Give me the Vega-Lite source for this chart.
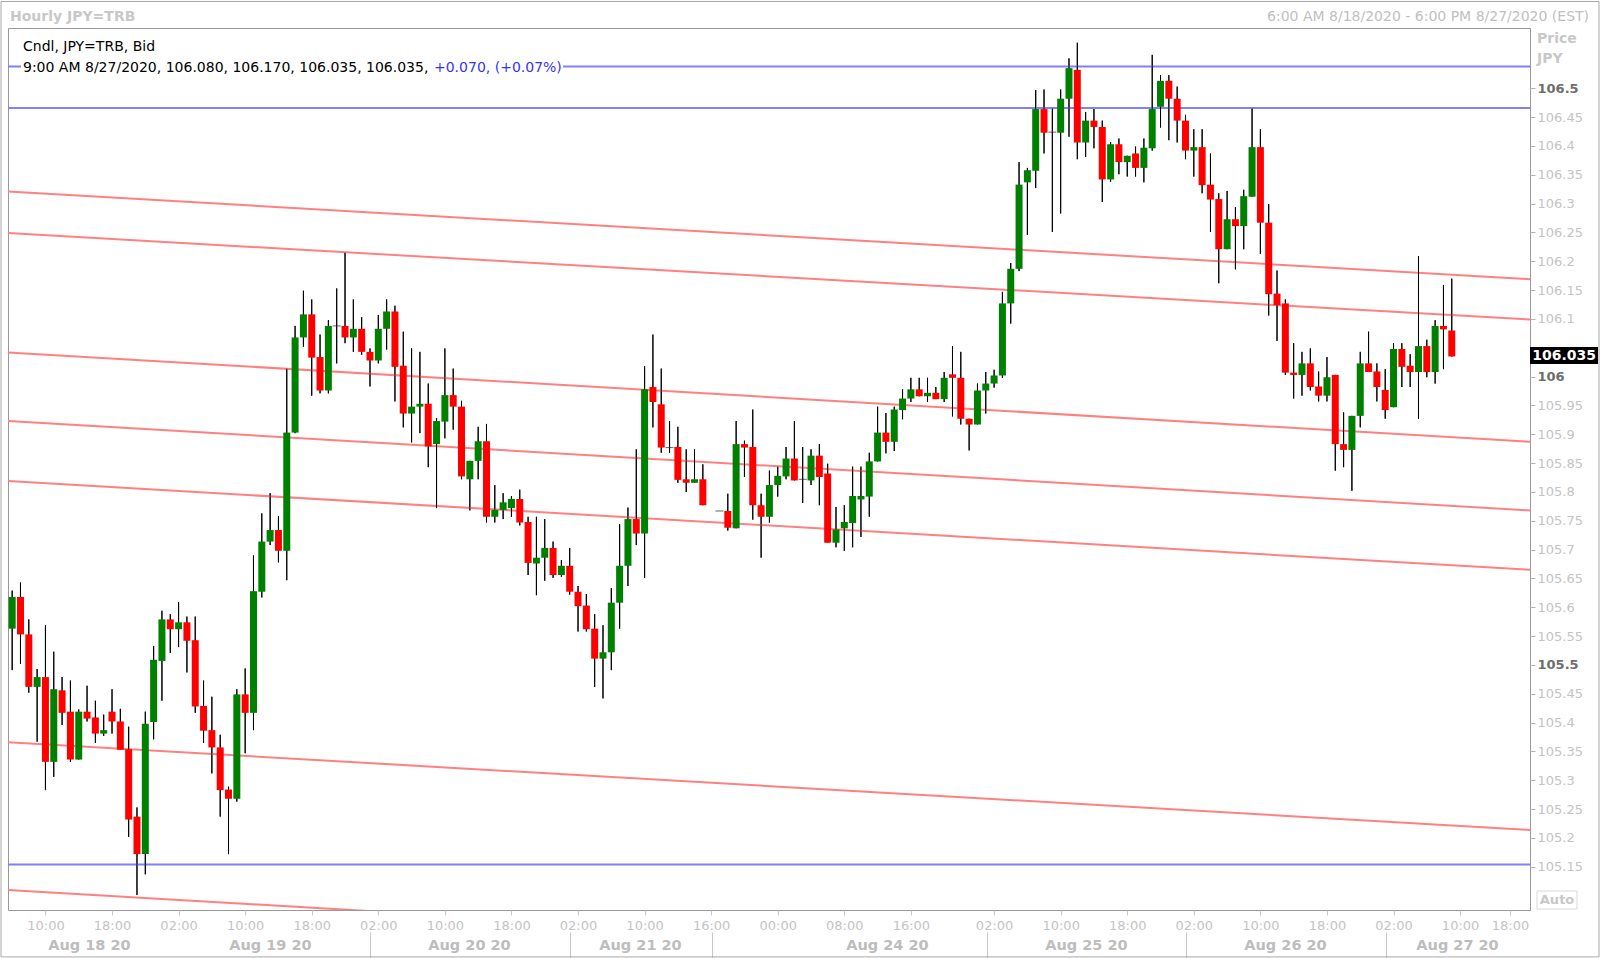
{
"$schema": "https://vega.github.io/schema/vega-lite/v6.json",
"width": 1522, "height": 882,
"autosize": {"type": "none"},
"padding": {"left": 8, "top": 28, "right": 70, "bottom": 48},
"background": "white",
"config": {"view": {"stroke": "#999999", "strokeWidth": 1}, "font": "DejaVu Sans", "scale": {"continuousPadding": 0}, "axis": {"labelOverlap": false}},
"datasets": {
"candles": [
{"i":0,"o":105.563,"h":105.629,"l":105.491,"c":105.618},
{"i":1,"o":105.618,"h":105.643,"l":105.502,"c":105.553},
{"i":2,"o":105.553,"h":105.579,"l":105.452,"c":105.462},
{"i":3,"o":105.462,"h":105.493,"l":105.367,"c":105.479},
{"i":4,"o":105.479,"h":105.569,"l":105.283,"c":105.332},
{"i":5,"o":105.332,"h":105.523,"l":105.306,"c":105.458},
{"i":6,"o":105.456,"h":105.479,"l":105.396,"c":105.417},
{"i":7,"o":105.419,"h":105.473,"l":105.332,"c":105.336},
{"i":8,"o":105.336,"h":105.423,"l":105.336,"c":105.419},
{"i":9,"o":105.419,"h":105.464,"l":105.402,"c":105.407},
{"i":10,"o":105.409,"h":105.438,"l":105.365,"c":105.381},
{"i":11,"o":105.381,"h":105.414,"l":105.377,"c":105.387},
{"i":12,"o":105.419,"h":105.458,"l":105.381,"c":105.402},
{"i":13,"o":105.402,"h":105.424,"l":105.353,"c":105.353},
{"i":14,"o":105.354,"h":105.393,"l":105.202,"c":105.232},
{"i":15,"o":105.237,"h":105.253,"l":105.101,"c":105.172},
{"i":16,"o":105.172,"h":105.419,"l":105.137,"c":105.398},
{"i":17,"o":105.401,"h":105.533,"l":105.371,"c":105.509},
{"i":18,"o":105.507,"h":105.594,"l":105.438,"c":105.579},
{"i":19,"o":105.579,"h":105.588,"l":105.521,"c":105.562},
{"i":20,"o":105.562,"h":105.609,"l":105.531,"c":105.574},
{"i":21,"o":105.574,"h":105.584,"l":105.487,"c":105.542},
{"i":22,"o":105.543,"h":105.584,"l":105.417,"c":105.428},
{"i":23,"o":105.429,"h":105.473,"l":105.365,"c":105.386},
{"i":24,"o":105.387,"h":105.445,"l":105.312,"c":105.357},
{"i":25,"o":105.357,"h":105.379,"l":105.237,"c":105.283},
{"i":26,"o":105.284,"h":105.289,"l":105.172,"c":105.268},
{"i":27,"o":105.268,"h":105.458,"l":105.263,"c":105.449},
{"i":28,"o":105.449,"h":105.494,"l":105.347,"c":105.417},
{"i":29,"o":105.417,"h":105.69,"l":105.387,"c":105.628},
{"i":30,"o":105.627,"h":105.763,"l":105.617,"c":105.714},
{"i":31,"o":105.714,"h":105.798,"l":105.708,"c":105.734},
{"i":32,"o":105.734,"h":105.758,"l":105.678,"c":105.698},
{"i":33,"o":105.698,"h":106.014,"l":105.647,"c":105.903},
{"i":34,"o":105.903,"h":106.088,"l":105.902,"c":106.068},
{"i":35,"o":106.068,"h":106.149,"l":106.052,"c":106.108},
{"i":36,"o":106.108,"h":106.134,"l":105.967,"c":106.033},
{"i":37,"o":106.034,"h":106.073,"l":105.971,"c":105.976},
{"i":38,"o":105.976,"h":106.098,"l":105.971,"c":106.088},
{"i":39,"o":106.088,"h":106.153,"l":106.023,"c":106.088},
{"i":40,"o":106.088,"h":106.215,"l":106.058,"c":106.068},
{"i":41,"o":106.068,"h":106.134,"l":106.043,"c":106.083},
{"i":42,"o":106.083,"h":106.103,"l":106.038,"c":106.043},
{"i":43,"o":106.043,"h":106.049,"l":105.983,"c":106.028},
{"i":44,"o":106.028,"h":106.107,"l":106.023,"c":106.083},
{"i":45,"o":106.083,"h":106.134,"l":106.047,"c":106.113},
{"i":46,"o":106.113,"h":106.123,"l":105.957,"c":106.017},
{"i":47,"o":106.019,"h":106.078,"l":105.912,"c":105.936},
{"i":48,"o":105.936,"h":106.049,"l":105.886,"c":105.948},
{"i":49,"o":105.948,"h":106.043,"l":105.902,"c":105.953},
{"i":50,"o":105.953,"h":105.988,"l":105.843,"c":105.879},
{"i":51,"o":105.883,"h":105.928,"l":105.772,"c":105.923},
{"i":52,"o":105.922,"h":106.049,"l":105.893,"c":105.968},
{"i":53,"o":105.968,"h":106.014,"l":105.908,"c":105.948},
{"i":54,"o":105.948,"h":105.958,"l":105.822,"c":105.827},
{"i":55,"o":105.822,"h":105.854,"l":105.768,"c":105.854},
{"i":56,"o":105.854,"h":105.913,"l":105.822,"c":105.888},
{"i":57,"o":105.888,"h":105.918,"l":105.747,"c":105.757},
{"i":58,"o":105.757,"h":105.812,"l":105.747,"c":105.769},
{"i":59,"o":105.769,"h":105.798,"l":105.753,"c":105.782},
{"i":60,"o":105.772,"h":105.793,"l":105.757,"c":105.788},
{"i":61,"o":105.788,"h":105.804,"l":105.742,"c":105.747},
{"i":62,"o":105.748,"h":105.757,"l":105.656,"c":105.677},
{"i":63,"o":105.676,"h":105.757,"l":105.621,"c":105.686},
{"i":64,"o":105.686,"h":105.753,"l":105.646,"c":105.703},
{"i":65,"o":105.703,"h":105.714,"l":105.651,"c":105.656},
{"i":66,"o":105.656,"h":105.682,"l":105.653,"c":105.672},
{"i":67,"o":105.672,"h":105.703,"l":105.622,"c":105.627},
{"i":68,"o":105.627,"h":105.637,"l":105.558,"c":105.602},
{"i":69,"o":105.603,"h":105.623,"l":105.558,"c":105.562},
{"i":70,"o":105.563,"h":105.588,"l":105.462,"c":105.511},
{"i":71,"o":105.511,"h":105.569,"l":105.442,"c":105.522},
{"i":72,"o":105.522,"h":105.633,"l":105.491,"c":105.608},
{"i":73,"o":105.608,"h":105.744,"l":105.563,"c":105.672},
{"i":74,"o":105.672,"h":105.773,"l":105.637,"c":105.753},
{"i":75,"o":105.753,"h":105.874,"l":105.708,"c":105.728},
{"i":76,"o":105.728,"h":106.018,"l":105.651,"c":105.978},
{"i":77,"o":105.982,"h":106.073,"l":105.912,"c":105.956},
{"i":78,"o":105.952,"h":106.014,"l":105.868,"c":105.877},
{"i":79,"o":105.877,"h":105.923,"l":105.868,"c":105.877},
{"i":80,"o":105.878,"h":105.913,"l":105.816,"c":105.821},
{"i":81,"o":105.822,"h":105.874,"l":105.800,"c":105.816},
{"i":82,"o":105.816,"h":105.874,"l":105.816,"c":105.822},
{"i":83,"o":105.822,"h":105.848,"l":105.777,"c":105.777},
{"i":85,"o":105.767,"h":105.767,"l":105.767,"c":105.767},
{"i":86,"o":105.767,"h":105.797,"l":105.733,"c":105.738},
{"i":87,"o":105.737,"h":105.923,"l":105.737,"c":105.883},
{"i":88,"o":105.883,"h":105.889,"l":105.826,"c":105.877},
{"i":89,"o":105.878,"h":105.943,"l":105.752,"c":105.777},
{"i":90,"o":105.777,"h":105.797,"l":105.686,"c":105.757},
{"i":91,"o":105.757,"h":105.837,"l":105.747,"c":105.812},
{"i":92,"o":105.812,"h":105.844,"l":105.792,"c":105.828},
{"i":93,"o":105.827,"h":105.878,"l":105.822,"c":105.858},
{"i":94,"o":105.858,"h":105.923,"l":105.820,"c":105.820},
{"i":95,"o":105.822,"h":105.878,"l":105.781,"c":105.822},
{"i":96,"o":105.820,"h":105.874,"l":105.812,"c":105.863},
{"i":97,"o":105.863,"h":105.883,"l":105.777,"c":105.826},
{"i":98,"o":105.832,"h":105.849,"l":105.712,"c":105.712},
{"i":99,"o":105.712,"h":105.774,"l":105.704,"c":105.735},
{"i":100,"o":105.737,"h":105.777,"l":105.698,"c":105.748},
{"i":101,"o":105.746,"h":105.844,"l":105.704,"c":105.793},
{"i":102,"o":105.787,"h":105.844,"l":105.722,"c":105.793},
{"i":103,"o":105.792,"h":105.868,"l":105.757,"c":105.853},
{"i":104,"o":105.853,"h":105.948,"l":105.853,"c":105.903},
{"i":105,"o":105.903,"h":105.937,"l":105.867,"c":105.887},
{"i":106,"o":105.887,"h":105.948,"l":105.871,"c":105.943},
{"i":107,"o":105.942,"h":105.978,"l":105.926,"c":105.962},
{"i":108,"o":105.962,"h":105.998,"l":105.956,"c":105.978},
{"i":109,"o":105.978,"h":105.998,"l":105.966,"c":105.966},
{"i":110,"o":105.966,"h":105.998,"l":105.956,"c":105.972},
{"i":111,"o":105.972,"h":105.982,"l":105.961,"c":105.961},
{"i":112,"o":105.961,"h":106.008,"l":105.956,"c":105.998},
{"i":113,"o":106.004,"h":106.053,"l":105.931,"c":105.998},
{"i":114,"o":105.998,"h":106.043,"l":105.917,"c":105.927},
{"i":115,"o":105.927,"h":105.927,"l":105.872,"c":105.917},
{"i":116,"o":105.917,"h":105.988,"l":105.917,"c":105.976},
{"i":117,"o":105.976,"h":106.008,"l":105.936,"c":105.988},
{"i":118,"o":105.988,"h":106.012,"l":105.981,"c":106.002},
{"i":119,"o":106.002,"h":106.147,"l":105.998,"c":106.127},
{"i":120,"o":106.127,"h":106.197,"l":106.092,"c":106.187},
{"i":121,"o":106.187,"h":106.372,"l":106.183,"c":106.333},
{"i":122,"o":106.337,"h":106.362,"l":106.246,"c":106.358},
{"i":123,"o":106.357,"h":106.497,"l":106.327,"c":106.464},
{"i":124,"o":106.464,"h":106.498,"l":106.387,"c":106.423},
{"i":125,"o":106.424,"h":106.465,"l":106.251,"c":106.424},
{"i":126,"o":106.423,"h":106.498,"l":106.283,"c":106.482},
{"i":127,"o":106.482,"h":106.552,"l":106.416,"c":106.535},
{"i":128,"o":106.532,"h":106.579,"l":106.377,"c":106.406},
{"i":129,"o":106.406,"h":106.459,"l":106.381,"c":106.444},
{"i":130,"o":106.444,"h":106.464,"l":106.396,"c":106.433},
{"i":131,"o":106.433,"h":106.444,"l":106.303,"c":106.342},
{"i":132,"o":106.342,"h":106.407,"l":106.338,"c":106.403},
{"i":133,"o":106.403,"h":106.413,"l":106.351,"c":106.372},
{"i":134,"o":106.372,"h":106.383,"l":106.347,"c":106.383},
{"i":135,"o":106.387,"h":106.399,"l":106.347,"c":106.362},
{"i":136,"o":106.362,"h":106.413,"l":106.337,"c":106.397},
{"i":137,"o":106.396,"h":106.558,"l":106.392,"c":106.464},
{"i":138,"o":106.468,"h":106.523,"l":106.432,"c":106.513},
{"i":139,"o":106.513,"h":106.523,"l":106.410,"c":106.482},
{"i":140,"o":106.482,"h":106.503,"l":106.406,"c":106.444},
{"i":141,"o":106.444,"h":106.454,"l":106.377,"c":106.392},
{"i":142,"o":106.392,"h":106.429,"l":106.347,"c":106.398},
{"i":143,"o":106.398,"h":106.429,"l":106.318,"c":106.332},
{"i":144,"o":106.333,"h":106.387,"l":106.251,"c":106.307},
{"i":145,"o":106.308,"h":106.318,"l":106.162,"c":106.221},
{"i":146,"o":106.221,"h":106.322,"l":106.221,"c":106.273},
{"i":147,"o":106.273,"h":106.294,"l":106.186,"c":106.261},
{"i":148,"o":106.261,"h":106.324,"l":106.221,"c":106.313},
{"i":149,"o":106.312,"h":106.465,"l":106.312,"c":106.398},
{"i":150,"o":106.398,"h":106.429,"l":106.213,"c":106.267},
{"i":151,"o":106.267,"h":106.299,"l":106.106,"c":106.143},
{"i":152,"o":106.144,"h":106.184,"l":106.062,"c":106.124},
{"i":153,"o":106.127,"h":106.134,"l":106.003,"c":106.007},
{"i":154,"o":106.007,"h":106.058,"l":105.962,"c":106.003},
{"i":155,"o":106.003,"h":106.043,"l":105.967,"c":106.023},
{"i":156,"o":106.023,"h":106.049,"l":105.976,"c":105.982},
{"i":157,"o":105.983,"h":106.009,"l":105.957,"c":105.967},
{"i":158,"o":105.967,"h":106.034,"l":105.957,"c":105.999},
{"i":159,"o":106.003,"h":106.003,"l":105.837,"c":105.883},
{"i":160,"o":105.883,"h":105.938,"l":105.843,"c":105.873},
{"i":161,"o":105.873,"h":105.932,"l":105.802,"c":105.932},
{"i":162,"o":105.932,"h":106.043,"l":105.912,"c":106.023},
{"i":163,"o":106.023,"h":106.078,"l":106.008,"c":106.008},
{"i":164,"o":106.009,"h":106.023,"l":105.957,"c":105.982},
{"i":165,"o":105.977,"h":106.013,"l":105.927,"c":105.942},
{"i":166,"o":105.947,"h":106.058,"l":105.947,"c":106.048},
{"i":167,"o":106.048,"h":106.058,"l":105.982,"c":106.017},
{"i":168,"o":106.019,"h":106.039,"l":105.982,"c":106.008},
{"i":169,"o":106.008,"h":106.209,"l":105.927,"c":106.053},
{"i":170,"o":106.053,"h":106.064,"l":105.999,"c":106.008},
{"i":171,"o":106.008,"h":106.098,"l":105.988,"c":106.088},
{"i":172,"o":106.088,"h":106.159,"l":106.013,"c":106.082},
{"i":173,"o":106.080,"h":106.170,"l":106.035,"c":106.035}
],
"tlines": [
{"line":"A","i":-0.5,"p":106.321},{"line":"A","i":182.4,"p":106.169},
{"line":"B","i":-0.5,"p":106.249},{"line":"B","i":182.4,"p":106.099},
{"line":"C","i":-0.5,"p":106.042},{"line":"C","i":182.4,"p":105.887},
{"line":"D","i":-0.5,"p":105.923},{"line":"D","i":182.4,"p":105.768},
{"line":"E","i":-0.5,"p":105.819},{"line":"E","i":182.4,"p":105.665},
{"line":"F","i":-0.5,"p":105.366},{"line":"F","i":182.4,"p":105.214},
{"line":"G","i":-0.5,"p":105.110},{"line":"G","i":182.4,"p":104.955}
],
"hlines": [{"p":106.538},{"p":106.466},{"p":105.154}]
},
"layer": [
{"data": {"name": "candles"},
 "mark": {"type": "rule", "color": "#000000", "strokeWidth": 1},
 "encoding": {
  "x": {"field": "i", "type": "quantitative", "scale": {"domain": [-0.5, 182.4], "nice": false, "zero": false, "padding": 0},
   "axis": {
    "title": null, "grid": false, "domain": false, "tickCount": 200,
    "values": [4,12,20,28,36,44,52,60,68,76,84,92,100,108,118,126,134,142,150,158,166,174,180,9.23,30.98,54.9,75.45,105.13,129.04,152.96,173.63,43.0,67.04,84.1,117.15,141.06,165.1],
    "labelExpr": "indexof([4,12,20,28,36,44,52,60,68,76,84,92,100,108,118,126,134,142,150,158,166,174,180], datum.value) >= 0 ? ['10:00','18:00','02:00','10:00','18:00','02:00','10:00','18:00','02:00','10:00','16:00','00:00','08:00','16:00','02:00','10:00','18:00','02:00','10:00','18:00','02:00','10:00','18:00'][indexof([4,12,20,28,36,44,52,60,68,76,84,92,100,108,118,126,134,142,150,158,166,174,180], datum.value)] : (indexof([9.23,30.98,54.9,75.45,105.13,129.04,152.96,173.63], datum.value) >= 0 ? ['Aug 18 20','Aug 19 20','Aug 20 20','Aug 21 20','Aug 24 20','Aug 25 20','Aug 26 20','Aug 27 20'][indexof([9.23,30.98,54.9,75.45,105.13,129.04,152.96,173.63], datum.value)] : '')",
    "labelOverlap": false, "labelFlush": false, "labelBound": false,
    "labelFont": "DejaVu Sans", "labelBaseline": "middle",
    "labelFontSize": {"condition": {"test": "indexof([9.23,30.98,54.9,75.45,105.13,129.04,152.96,173.63], datum.value) >= 0", "value": 14.5}, "value": 13},
    "labelFontWeight": {"condition": {"test": "indexof([9.23,30.98,54.9,75.45,105.13,129.04,152.96,173.63], datum.value) >= 0", "value": "bold"}, "value": "normal"},
    "labelColor": {"condition": {"test": "indexof([9.23,30.98,54.9,75.45,105.13,129.04,152.96,173.63], datum.value) >= 0", "value": "#bdbdbd"}, "value": "#c4c4c4"},
    "labelPadding": {"condition": {"test": "indexof([9.23,30.98,54.9,75.45,105.13,129.04,152.96,173.63], datum.value) >= 0", "value": 30}, "value": 10},
    "tickColor": {"condition": {"test": "indexof([9.23,30.98,54.9,75.45,105.13,129.04,152.96,173.63], datum.value) >= 0", "value": "rgba(0,0,0,0)"}, "value": "#c8c8c8"},
    "tickSize": {"condition": {"test": "indexof([43.0,67.04,84.1,117.15,141.06,165.1], datum.value) >= 0", "value": 52}, "value": 5},
    "tickDash": {"condition": {"test": "indexof([43.0,67.04,84.1,117.15,141.06,165.1], datum.value) >= 0", "value": [0, 22, 32, 100]}, "value": []}
   }},
  "y": {"field": "l", "type": "quantitative", "scale": {"domain": [105.0751, 106.6046], "nice": false, "zero": false},
   "axis": {
    "orient": "right", "title": null, "grid": false, "domain": false, "tickCount": 200,
    "values": [105.15,105.2,105.25,105.3,105.35,105.4,105.45,105.5,105.55,105.6,105.65,105.7,105.75,105.8,105.85,105.9,105.95,106,106.1,106.15,106.2,106.25,106.3,106.35,106.4,106.45,106.5],
    "format": ".2~f", "labelOverlap": false, "labelFlush": false, "labelBound": false,
    "tickColor": "#b4b4b4", "tickSize": 5, "labelPadding": 2,
    "labelFont": "DejaVu Sans", "labelFontSize": 13, "labelBaseline": "middle",
    "labelColor": {"condition": {"test": "abs(datum.value*2 - round(datum.value*2)) < 0.001", "value": "#6e6e6e"}, "value": "#c4c4c4"},
    "labelFontWeight": {"condition": {"test": "abs(datum.value*2 - round(datum.value*2)) < 0.001", "value": "bold"}, "value": "normal"}
   }},
  "y2": {"field": "h"}}},
{"data": {"values": [{}]},
 "mark": {"type": "rect", "fill": "transparent", "stroke": "#a8a8a8", "strokeWidth": 1},
 "encoding": {
  "x": {"datum": -1.34, "type": "quantitative"},
  "x2": {"datum": 190.69},
  "y": {"datum": 106.6506, "type": "quantitative"},
  "y2": {"datum": 104.9937}}},
{"data": {"name": "hlines"},
 "mark": {"type": "rule", "color": "#8080ff", "strokeWidth": 2},
 "encoding": {"y": {"field": "p", "type": "quantitative", "scale": {"domain": [105.0751, 106.6046], "nice": false, "zero": false}}}},
{"data": {"name": "tlines"},
 "mark": {"type": "line", "color": "#ff8080", "strokeWidth": 2, "clip": true},
 "encoding": {
  "x": {"field": "i", "type": "quantitative", "scale": {"domain": [-0.5, 182.4], "nice": false, "zero": false, "padding": 0}},
  "y": {"field": "p", "type": "quantitative", "scale": {"domain": [105.0751, 106.6046], "nice": false, "zero": false}},
  "detail": {"field": "line"}}},
{"data": {"name": "candles"},
 "mark": {"type": "rule", "color": "#000000", "strokeWidth": 1},
 "encoding": {
  "x": {"field": "i", "type": "quantitative", "scale": {"domain": [-0.5, 182.4], "nice": false, "zero": false, "padding": 0}},
  "y": {"field": "l", "type": "quantitative", "scale": {"domain": [105.0751, 106.6046], "nice": false, "zero": false}},
  "y2": {"field": "h"}}},
{"data": {"name": "candles"},
 "mark": {"type": "bar", "size": 7},
 "encoding": {
  "x": {"field": "i", "type": "quantitative", "scale": {"domain": [-0.5, 182.4], "nice": false, "zero": false, "padding": 0}},
  "y": {"field": "o", "type": "quantitative", "scale": {"domain": [105.0751, 106.6046], "nice": false, "zero": false}},
  "y2": {"field": "c"},
  "color": {"condition": {"test": "datum.c >= datum.o", "value": "#008000"}, "value": "#ff0000"}}},
{"data": {"name": "candles"},
 "transform": [{"filter": "abs(datum.c - datum.o) < 0.0015"}],
 "mark": {"type": "tick", "orient": "horizontal", "color": "#222222", "size": 8, "thickness": 1},
 "encoding": {
  "x": {"field": "i", "type": "quantitative", "scale": {"domain": [-0.5, 182.4], "nice": false, "zero": false, "padding": 0}},
  "y": {"field": "c", "type": "quantitative", "scale": {"domain": [105.0751, 106.6046], "nice": false, "zero": false}}}},
{"data": {"values": [{}]},
 "mark": {"type": "rect", "fill": "#ffffff"},
 "encoding": {
  "x": {"datum": 1.06, "type": "quantitative"},
  "x2": {"datum": 66.2},
  "y": {"datum": 106.5508, "type": "quantitative"},
  "y2": {"datum": 106.5248}}},
{"data": {"values": [{}]},
 "mark": {"type": "text", "text": "Cndl, JPY=TRB, Bid", "align": "left", "baseline": "middle", "font": "DejaVu Sans", "fontSize": 14, "color": "#000000"},
 "encoding": {
  "x": {"datum": 1.3, "type": "quantitative"},
  "y": {"datum": 106.5708, "type": "quantitative"}}},
{"data": {"values": [{}]},
 "mark": {"type": "text", "text": "9:00 AM 8/27/2020, 106.080, 106.170, 106.035, 106.035,", "align": "left", "baseline": "middle", "font": "DejaVu Sans", "fontSize": 14, "color": "#000000"},
 "encoding": {
  "x": {"datum": 1.3, "type": "quantitative"},
  "y": {"datum": 106.5348, "type": "quantitative"}}},
{"data": {"values": [{}]},
 "mark": {"type": "text", "text": "+0.070, (+0.07%)", "align": "left", "baseline": "middle", "font": "DejaVu Sans", "fontSize": 14, "color": "#3333ff"},
 "encoding": {
  "x": {"datum": 50.69, "type": "quantitative"},
  "y": {"datum": 106.5348, "type": "quantitative"}}},
{"data": {"values": [{}]},
 "mark": {"type": "text", "text": "Hourly JPY=TRB", "align": "left", "baseline": "middle", "font": "DejaVu Sans", "fontSize": 14, "fontWeight": "bold", "color": "#c8c8c8"},
 "encoding": {
  "x": {"datum": -0.26, "type": "quantitative"},
  "y": {"datum": 106.6236, "type": "quantitative"}}},
{"data": {"values": [{}]},
 "mark": {"type": "text", "text": "6:00 AM 8/18/2020 - 6:00 PM 8/27/2020 (EST)", "align": "right", "baseline": "middle", "font": "DejaVu Sans", "fontSize": 14, "color": "#c0c0c0"},
 "encoding": {
  "x": {"datum": 189.5, "type": "quantitative"},
  "y": {"datum": 106.6236, "type": "quantitative"}}},
{"data": {"values": [{}]},
 "mark": {"type": "text", "text": "Price", "align": "left", "baseline": "middle", "font": "DejaVu Sans", "fontSize": 14, "fontWeight": "bold", "color": "#c8c8c8"},
 "encoding": {
  "x": {"datum": 183.24, "type": "quantitative"},
  "y": {"datum": 106.5847, "type": "quantitative"}}},
{"data": {"values": [{}]},
 "mark": {"type": "text", "text": "JPY", "align": "left", "baseline": "middle", "font": "DejaVu Sans", "fontSize": 14, "fontWeight": "bold", "color": "#c8c8c8"},
 "encoding": {
  "x": {"datum": 183.24, "type": "quantitative"},
  "y": {"datum": 106.55, "type": "quantitative"}}},
{"data": {"values": [{}]},
 "mark": {"type": "rect", "fill": "#000000"},
 "encoding": {
  "x": {"datum": 182.4, "type": "quantitative"},
  "x2": {"datum": 190.57},
  "y": {"datum": 106.0515, "type": "quantitative"},
  "y2": {"datum": 106.0220}}},
{"data": {"values": [{}]},
 "mark": {"type": "text", "text": "106.035", "align": "center", "baseline": "middle", "font": "DejaVu Sans", "fontSize": 14, "fontWeight": "bold", "color": "#ffffff"},
 "encoding": {
  "x": {"datum": 186.5, "type": "quantitative"},
  "y": {"datum": 106.0365, "type": "quantitative"}}},
{"data": {"values": [{}]},
 "mark": {"type": "rect", "fill": "#ffffff", "stroke": "#d8d8d8", "strokeWidth": 1},
 "encoding": {
  "x": {"datum": 183.24, "type": "quantitative"},
  "x2": {"datum": 188.05},
  "y": {"datum": 105.108, "type": "quantitative"},
  "y2": {"datum": 105.0768}}},
{"data": {"values": [{}]},
 "mark": {"type": "text", "text": "Auto", "align": "center", "baseline": "middle", "font": "DejaVu Sans", "fontSize": 13, "fontWeight": "bold", "color": "#c8c8c8"},
 "encoding": {
  "x": {"datum": 185.65, "type": "quantitative"},
  "y": {"datum": 105.0924, "type": "quantitative"}}}
]
}
